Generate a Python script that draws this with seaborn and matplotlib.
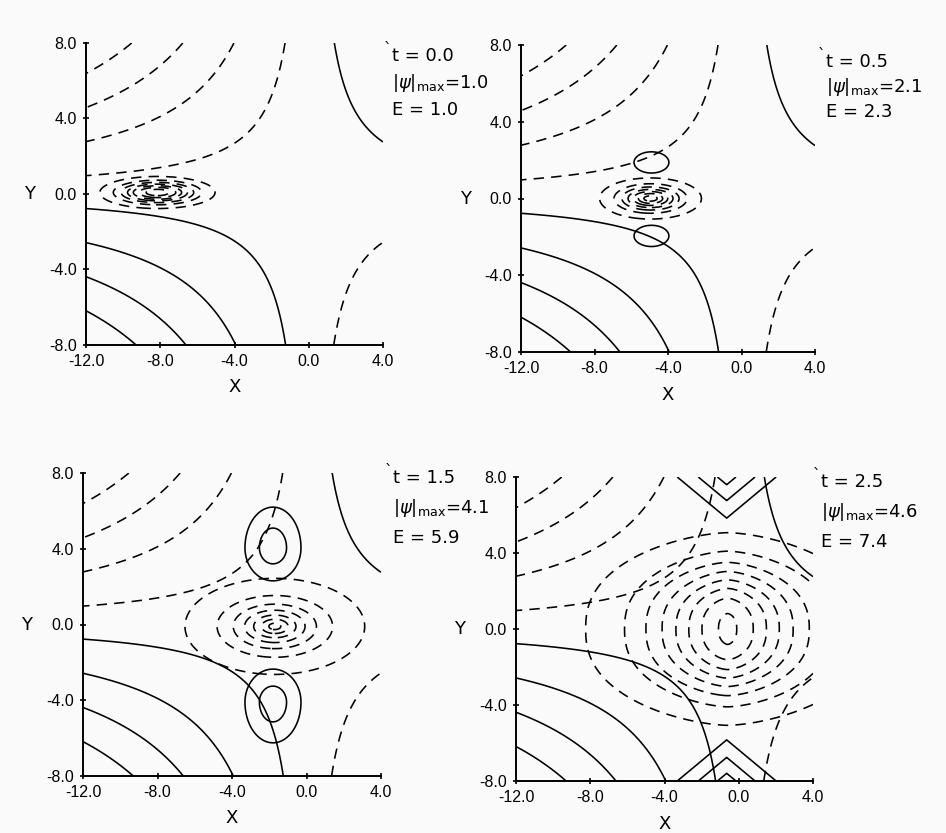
import numpy as np
import matplotlib
matplotlib.use("Agg")
import matplotlib.pyplot as plt
import seaborn as sns

sns.set_style("ticks")
plt.rcParams['font.family'] = ['DejaVu Sans']
plt.rcParams['mathtext.fontset'] = 'dejavusans'
plt.rcParams['text.color'] = 'k'

# ---------------- data ----------------
times = [0.0, 0.5, 1.5, 2.5]
psi_max = [1.0, 2.1, 4.1, 4.6]
energy = [1.0, 2.3, 5.9, 7.4]

x_ticks = [-12.0, -8.0, -4.0, 0.0, 4.0]
y_ticks = [-8.0, -4.0, 0.0, 4.0, 8.0]

# basic-state stream function psi0 = (x - x0) * (y - y0), contour levels
base_x0 = 0.05
base_y0 = 0.1
base_levels = [-97.5, -75.75, -54.0, -32.25, -10.5, 10.5, 32.25, 54.0, 75.75, 97.5]
# perturbation contour levels (negative core, positive lobes)
core_levels = [-0.9375, -0.8125, -0.6875, -0.5625, -0.4375, -0.3125, -0.1875, -0.0625]
lobe_levels = [0.0625, 0.1875, 0.3125, 0.4375]

# negative core of the perturbation (one per panel):
# amp * exp(-(|dx/sx|^px + |dy/sy|^py)^pw)
core_x = [-8.15, -4.95, -1.7, -0.6]
core_y = [0.08, 0.0, -0.1, 0.0]
core_amp = [-0.9, -0.9, -0.9, -0.97]
core_sx = [1.9, 1.5, 2.13, 4.07]
core_sy = [0.52, 0.58, 1.12, 3.33]
core_px = [2.0, 2.0, 2.0, 1.6]
core_py = [2.0, 2.0, 2.0, 2.4]
core_pw = [1.0, 0.8, 0.6, 1.0]

# positive side lobes above / below the core
lobe_x = [-8.1, -4.9, -1.8, -0.65]
lobe_yup = [2.0, 1.88, 4.05, 8.1]
lobe_ydn = [-2.0, -1.95, -4.1, -8.1]
lobe_amp = [0.0, 0.15, 0.31, 0.34]
lobe_sx = [1.0, 1.03, 1.12, 2.14]
lobe_sy_near = [1.0, 0.60, 1.3, 1.74]
lobe_sy_far = [1.0, 0.60, 1.6, 1.74]
lobe_p = [1.6, 1.6, 1.6, 2.0]
lobe_q = [2.0, 2.0, 2.0, 1.0]

# axes placement in pixels (left, top, right, bottom)
axes_px = [(86, 43, 383, 345), (521, 45, 815, 352), (83, 473, 381, 776), (516, 477, 813, 781)]
text_px = [(392, 56), (826, 62), (393, 478), (821, 482)]
text_dy = [27, 25, 30, 30]

W, H = 946, 833
fig = plt.figure(figsize=(W / 100, H / 100), dpi=100)
fig.patch.set_facecolor('#fafafa')

xg = np.linspace(-12, 4, 500)
yg = np.linspace(-8, 8, 500)
X, Y = np.meshgrid(xg, yg)
psi0 = (X - base_x0) * (Y - base_y0)

lw = 1.15
dash = (0, (6.5, 4.5))
tick_family = ['Liberation Sans', 'DejaVu Sans']

for i in range(4):
    l, t, r, b = axes_px[i]
    ax = fig.add_axes([l / W, 1 - b / H, (r - l) / W, (b - t) / H])
    ax.set_facecolor('none')

    # negative core
    dxc = np.abs((X - core_x[i]) / core_sx[i])
    dyc = np.abs((Y - core_y[i]) / core_sy[i])
    core = core_amp[i] * np.exp(-(dxc ** core_px[i] + dyc ** core_py[i]) ** core_pw[i])

    # positive lobes
    lobes = np.zeros_like(X)
    for yc, sgn in ((lobe_yup[i], 1.0), (lobe_ydn[i], -1.0)):
        dxl = np.abs((X - lobe_x[i]) / lobe_sx[i])
        dy = (Y - yc) * sgn   # > 0 away from the core
        dyl = np.where(dy > 0, dy / lobe_sy_far[i], -dy / lobe_sy_near[i])
        rho = (dxl ** lobe_q[i] + dyl ** lobe_q[i]) ** (1.0 / lobe_q[i])
        lobes = lobes + lobe_amp[i] * np.exp(-rho ** lobe_p[i])

    neg = [v for v in base_levels if v < 0]
    pos = [v for v in base_levels if v > 0]
    ax.contour(X, Y, psi0, levels=neg, colors='k', linewidths=lw, linestyles=[dash])
    ax.contour(X, Y, psi0, levels=pos, colors='k', linewidths=lw, linestyles='solid')
    ax.contour(X, Y, core, levels=core_levels, colors='k', linewidths=lw, linestyles=[dash])
    if lobes.max() > lobe_levels[0]:
        ax.contour(X, Y, lobes, levels=lobe_levels, colors='k', linewidths=lw, linestyles='solid')

    ax.set_xlim(-12, 4)
    ax.set_ylim(-8, 8)
    ax.set_xticks(x_ticks)
    ax.set_yticks(y_ticks)
    ax.set_xticklabels([f"{v:.1f}" for v in x_ticks], family=tick_family)
    ax.set_yticklabels([f"{v:.1f}" for v in y_ticks], family=tick_family)
    sns.despine(ax=ax)
    for s in ('left', 'bottom'):
        ax.spines[s].set_linewidth(1.4)
        ax.spines[s].set_color('k')
    ax.tick_params(direction='inout', length=5, width=1.2, colors='k', labelsize=11.5, pad=4)
    ax.set_xlabel('X', fontsize=13, color='k', va='center')
    ax.set_ylabel('Y', fontsize=13, rotation=0, va='center', ha='center', color='k')
    ax.xaxis.set_label_coords(0.5, -0.14)
    ax.yaxis.set_label_coords(-0.19, 0.5)

    tx, ty = text_px[i]
    d = text_dy[i]
    fig.text((tx - 8) / W, 1 - (ty - 6) / H, '`', fontsize=11, ha='left', va='center')
    fig.text(tx / W, 1 - ty / H, f"t = {times[i]:.1f}", fontsize=13, ha='left', va='center')
    fig.text(tx / W, 1 - (ty + d) / H, r"$|\psi|_{\mathrm{max}}$" + f"={psi_max[i]:.1f}",
             fontsize=13, ha='left', va='center')
    fig.text(tx / W, 1 - (ty + 2 * d) / H, f"E = {energy[i]:.1f}", fontsize=13, ha='left', va='center')

fig.savefig('out.png', dpi=100, facecolor=fig.get_facecolor())
